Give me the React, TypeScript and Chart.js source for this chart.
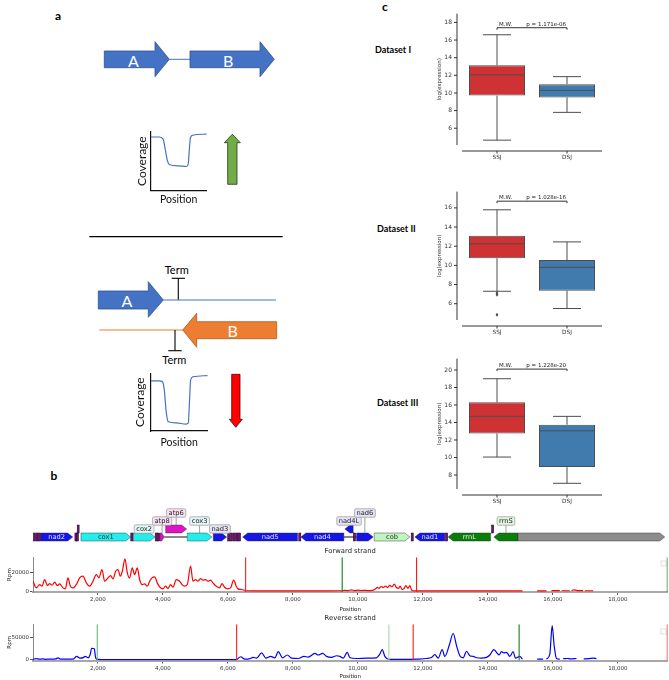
import React, { useEffect, useRef } from 'react';
import { Chart, registerables } from 'chart.js';

Chart.register(...registerables);

const SANS = "'DejaVu Sans', sans-serif";
const LATO = "Lato, 'Noto Sans', sans-serif";

// ---------- panel a: sketched coverage curves ----------
const sketchUpPos = [0, 15, 22, 26, 30, 34, 50, 64, 67, 69, 71, 75, 100];
const sketchUpCov = [91, 91, 88, 70, 50, 44, 42, 41, 45, 70, 90, 94, 96];
const sketchDownPos = [0, 15, 21, 24, 27, 31, 45, 62, 66, 68, 70, 74, 100];
const sketchDownCov = [87, 87, 85, 70, 35, 16, 14, 12, 14, 50, 88, 94, 96];

// ---------- panel c: box plots ----------
const groups = ['SSJ', 'DSJ'];
const datasetNames = ['Dataset I', 'Dataset II', 'Dataset III'];
const pValues = ['1.171e-06', '1.028e-16', '1.228e-20'];
const whiskerLow = [[4.65, 7.8], [7.3, 5.5], [10.05, 7.05]];
const quartile1 = [[9.7, 9.5], [10.75, 7.35], [12.75, 8.9]];
const medians = [[12.05, 10.3], [12.25, 9.8], [14.7, 13.05]];
const quartile3 = [[13.15, 11.0], [13.1, 10.55], [16.3, 13.75]];
const whiskerHigh = [[16.6, 11.85], [15.8, 12.45], [19.0, 14.7]];
const outliers = [[[], []], [[7.13, 6.94, 4.86], []], [[], []]];
const bracketLevel = [17.4, 16.7, 20.1];
const boxYMin = [4.1, 4.3, 6.4];
const boxYMax = [19.0, 17.7, 21.3];
const boxYTicks = [[6, 8, 10, 12, 14, 16, 18], [6, 8, 10, 12, 14, 16], [8, 10, 12, 14, 16, 18, 20]];
const boxColors = ['#cf3234', '#417bae'];

// ---------- panel b: genome map ----------
const genomeLength = 19530;
const geneNames = ['nad2', 'cox1', 'cox2', 'atp8', 'atp6', 'cox3', 'nad3', 'nad5', 'nad4', 'nad4L', 'nad6', 'cob', 'nad1', 'rrnL', 'rrnS', ''];
const geneStart = [237, 1477, 3086, 3908, 4083, 4748, 5548, 6452, 8246, 9600, 9960, 10502, 11754, 12778, 14185, 14932];
const geneEnd = [1222, 3006, 3754, 4040, 4729, 5508, 5960, 8144, 9569, 9855, 10471, 11600, 12677, 14083, 14932, 19446];
const geneStrand = [1, 1, 1, 1, 1, 1, 1, -1, -1, -1, 1, 1, -1, -1, -1, 1];
const geneTrack = [0, 0, 0, 0, 1, 0, 0, 0, 0, 1, 0, 0, 0, 0, 0, 0];
const geneLabelLevel = [0, 0, 1, 2, 3, 2, 1, 0, 0, 2, 3, 0, 0, 0, 2, 0];
const tRNAStart = [10, 90, 165, 1290, 1340, 1360, 3010, 3760, 3835, 5990, 6075, 6160, 6245, 6320, 8180, 9860, 11640, 12695, 14115];
const tRNAEnd = [75, 155, 232, 1350, 1400, 1420, 3075, 3825, 3900, 6060, 6145, 6230, 6310, 6390, 8245, 9930, 11705, 12765, 14180];
const tRNATrack = [0, 0, 0, 0, 0, 1, 0, 0, 0, 0, 0, 0, 0, 0, 0, 0, 0, 0, 1];
const linkStart = [4040, 9569];
const linkEnd = [4748, 9960];

const geneFill: Record<string, string> = { nad: '#1515e8', cox: '#22eeee', atp: '#dd14c4', cob: '#bff5bf', rrn: '#0b7d0b', '': '#8c8c8c' };
const geneText: Record<string, string> = { nad: '#e6e6ff', cox: '#333', atp: '#333', cob: '#333', rrn: '#eeeeee', '': '#333' };
const labelFill: Record<string, string> = { nad: '#e4e4f6', cox: '#e0f6f6', atp: '#f8e0f2', cob: '#e2f6e2', rrn: '#e0f4e0', '': '#eee' };

// ---------- panel b: coverage ----------
const xTickValues = [2000, 4000, 6000, 8000, 10000, 12000, 14000, 16000, 18000];

const fwdPos = [0, 103, 205, 277, 359, 441, 513, 585, 667, 749,
  821, 923, 995, 1077, 1149, 1231, 1333, 1436, 1538, 1641,
  1744, 1846, 1949, 2031, 2123, 2205, 2308, 2390, 2462, 2544,
  2615, 2687, 2749, 2831, 2903, 2974, 3056, 3128, 3210, 3282,
  3354, 3436, 3518, 3590, 3662, 3744, 3826, 3897, 4000, 4082,
  4154, 4236, 4308, 4410, 4513, 4585, 4667, 4749, 4851, 4923,
  5005, 5077, 5159, 5231, 5313, 5385, 5467, 5538, 5641, 5744,
  5815, 5897, 5979, 6082, 6174, 6256, 6308, 6410, 6513, 6560,
  7000, 8000, 9000, 9500, 9600, 9700, 9800, 9900, 10000, 10100,
  10200, 10300, 10450, 10550, 10600, 10650, 10720, 10780, 10850, 10920,
  10980, 11050, 11120, 11180, 11250, 11300, 11360, 11420, 11480, 11540,
  11600, 11650, 11700, 11800, 12500, 13500, 14500, 15066, 15300, 15518,
  15805, 15880, 15959, 16215, 16240, 16267, 16523, 16550, 16574, 16650,
  16750, 16933, 16960, 16985, 17241];
const fwdRpm = [10500, 3500, 7000, 5300, 12300, 6000, 8000, 6300, 9500, 6000,
  7700, 3500, 2500, 14000, 5300, 3500, 7000, 14000, 15800, 8800,
  5300, 10500, 17500, 14000, 22800, 10500, 14000, 16500, 13000, 21000,
  22800, 15800, 21000, 34000, 19300, 14000, 24500, 17500, 24500, 12300,
  7000, 7700, 5300, 10500, 14000, 15100, 8800, 4600, 2500, 5300,
  2800, 7000, 4200, 12300, 10500, 7000, 5300, 7000, 26300, 10500,
  12300, 10500, 13300, 11600, 12300, 10500, 11600, 8800, 5300, 3500,
  8000, 4200, 2500, 3500, 11600, 5300, 2500, 1800, 1000, 500,
  300, 300, 400, 500, 1000, 600, 1400, 700, 1200, 800,
  1000, 700, 900, 2500, 4000, 3000, 5000, 3800, 5500, 4000,
  6300, 4500, 7400, 4200, 3000, 5500, 2000, 2800, 6000, 3000,
  5800, 1500, 500, 300, 300, 300, 300, 300, null, 400,
  400, null, 700, 700, null, 500, 500, null, 600, 1500,
  700, 600, null, 500, 500];
const fwdMarkerPos = [6545, 9517, 11806, 19525];
const fwdMarkerColors = ['#ff1a1a', '#1a7a1a', '#ff1a1a', '#1a7a1a'];

const revPos = [0, 100, 200, 300, 400, 500, 600, 700, 779, 850,
  1000, 1150, 1250, 1344, 1446, 1550, 1600, 1700, 1760, 1805,
  1887, 1920, 1950, 2100, 3000, 4000, 5000, 6000, 6260, 6390,
  6523, 6650, 6780, 6880, 7036, 7169, 7313, 7446, 7549, 7682,
  7826, 7959, 8164, 8338, 8472, 8677, 8780, 8913, 9036, 9190,
  9344, 9446, 9549, 9672, 9754, 9959, 10267, 10574, 10677, 10749,
  10831, 10903, 11000, 11500, 11805, 12113, 12267, 12369, 12472, 12595,
  12677, 12810, 12933, 13036, 13138, 13241, 13344, 13446, 13549, 13651,
  13805, 13959, 14062, 14185, 14267, 14349, 14421, 14492, 14574, 14677,
  14779, 14851, 14985, 15067, 15300, 15520, 15700, 15760, 15805, 15908,
  15980, 16041, 16113, 16215, 16270, 16318, 16450, 16550, 16728, 16780,
  16831, 16900, 16950, 17100, 17241, 17344];
const revRpm = [1500, 2500, 1500, 2000, 1200, 1800, 1500, 2000, 4600, 1500,
  1800, 1500, 2000, 7700, 3800, 5000, 7700, 4600, 12000, 26000,
  24600, 8000, 1500, 500, 500, 500, 500, 500, 600, 6900,
  1500, 2000, 5400, 3800, 15400, 3800, 7700, 4600, 18400, 4600,
  10800, 3800, 3000, 7700, 6100, 14600, 10800, 14600, 7700, 5400,
  9200, 7700, 3800, 16900, 4600, 3000, 3800, 4600, 13000, 23000,
  7700, 2300, 800, 800, 1500, 3000, 5400, 11500, 3800, 23000,
  7700, 32000, 59000, 32000, 9200, 4600, 19200, 9200, 7700, 4600,
  3800, 5400, 10800, 23000, 16900, 10800, 18400, 15400, 16900, 7700,
  18400, 3800, 7700, 1500, null, 1500, 1500, null, 1500, 13000,
  76800, 32000, 3000, 1500, null, 2500, 3000, 2200, 3000, null,
  4000, null, 2000, 2500, 4000, 2500];
const revMarkerPos = [1978, 6268, 10954, 11702, 14963, 19525];
const revMarkerColors = ['#66bb66', '#ff1a1a', '#a6d9a6', '#ff1a1a', '#1a7a1a', '#ff1a1a'];

// ---------- plugins ----------
function line(ctx: CanvasRenderingContext2D, x1: number, y1: number, x2: number, y2: number) {
  ctx.beginPath();
  ctx.moveTo(x1, y1);
  ctx.lineTo(x2, y2);
  ctx.stroke();
}

const boxPlugin = {
  id: 'boxExtras',
  afterDatasetsDraw(chart: any, _args: any, opts: any) {
    const k = opts.k;
    const { ctx, chartArea } = chart;
    const xs = chart.scales.x;
    const ys = chart.scales.y;
    const meta = chart.getDatasetMeta(0);
    ctx.save();
    ctx.strokeStyle = '#4d4d4d';
    ctx.lineWidth = 1;
    groups.forEach((_g, i) => {
      const cx = xs.getPixelForValue(i);
      const bw = meta.data[i].width;
      const cap = bw / 4;
      line(ctx, cx, ys.getPixelForValue(quartile1[k][i]), cx, ys.getPixelForValue(whiskerLow[k][i]));
      line(ctx, cx - cap, ys.getPixelForValue(whiskerLow[k][i]), cx + cap, ys.getPixelForValue(whiskerLow[k][i]));
      line(ctx, cx, ys.getPixelForValue(quartile3[k][i]), cx, ys.getPixelForValue(whiskerHigh[k][i]));
      line(ctx, cx - cap, ys.getPixelForValue(whiskerHigh[k][i]), cx + cap, ys.getPixelForValue(whiskerHigh[k][i]));
      line(ctx, cx - bw / 2, ys.getPixelForValue(medians[k][i]), cx + bw / 2, ys.getPixelForValue(medians[k][i]));
      (outliers[k][i] as number[]).forEach((v) => {
        const py = ys.getPixelForValue(v);
        ctx.fillStyle = '#4d4d4d';
        ctx.beginPath();
        ctx.moveTo(cx, py - 2);
        ctx.lineTo(cx + 1.4, py);
        ctx.lineTo(cx, py + 2);
        ctx.lineTo(cx - 1.4, py);
        ctx.closePath();
        ctx.fill();
      });
    });
    // offset spines
    ctx.strokeStyle = '#333';
    const sx = chartArea.left - 5;
    line(ctx, sx, chartArea.top, sx, chartArea.bottom);
    ys.ticks.forEach((t: any) => {
      const py = ys.getPixelForValue(t.value);
      line(ctx, sx - 3, py, sx, py);
    });
    const sy = chartArea.bottom + 6;
    line(ctx, chartArea.left, sy, chartArea.right, sy);
    groups.forEach((_g, i) => {
      const px = xs.getPixelForValue(i);
      line(ctx, px, sy, px, sy + 2.5);
    });
    // significance bracket
    const bx1 = xs.getPixelForValue(0);
    const bx2 = xs.getPixelForValue(1);
    const by = ys.getPixelForValue(bracketLevel[k]);
    ctx.strokeStyle = '#333';
    ctx.beginPath();
    ctx.moveTo(bx1, by + 2);
    ctx.lineTo(bx1, by);
    ctx.lineTo(bx2, by);
    ctx.lineTo(bx2, by + 2);
    ctx.stroke();
    ctx.fillStyle = '#222';
    ctx.font = `5.5px ${SANS}`;
    ctx.textBaseline = 'bottom';
    ctx.textAlign = 'left';
    ctx.fillText('M.W.', bx1 + 2, by - 0.5);
    ctx.textAlign = 'right';
    ctx.fillText(`p = ${pValues[k]}`, bx2 - 1, by - 0.5);
    ctx.restore();
  },
};

function geneType(name: string) {
  if (name.startsWith('nad')) return 'nad';
  if (name.startsWith('cox')) return 'cox';
  if (name.startsWith('atp')) return 'atp';
  if (name.startsWith('cob')) return 'cob';
  if (name.startsWith('rrn')) return 'rrn';
  return '';
}

const genePlugin = {
  id: 'geneMap',
  afterDraw(chart: any) {
    const { ctx } = chart;
    const xs = chart.scales.x;
    const ys = chart.scales.y;
    const H = 4;
    ctx.save();
    // backbone links
    ctx.strokeStyle = '#111';
    ctx.lineWidth = 1;
    linkStart.forEach((s, i) => {
      line(ctx, xs.getPixelForValue(s), ys.getPixelForValue(0), xs.getPixelForValue(linkEnd[i]), ys.getPixelForValue(0));
    });
    // genes
    geneNames.forEach((name, i) => {
      const t = geneType(name);
      const x1 = xs.getPixelForValue(geneStart[i]);
      const x2 = xs.getPixelForValue(geneEnd[i]);
      const cy = ys.getPixelForValue(geneTrack[i]);
      const head = Math.min(5, (x2 - x1) * 0.6);
      ctx.beginPath();
      if (geneStrand[i] > 0) {
        ctx.moveTo(x1, cy - H);
        ctx.lineTo(x2 - head, cy - H);
        ctx.lineTo(x2, cy);
        ctx.lineTo(x2 - head, cy + H);
        ctx.lineTo(x1, cy + H);
      } else {
        ctx.moveTo(x2, cy - H);
        ctx.lineTo(x1 + head, cy - H);
        ctx.lineTo(x1, cy);
        ctx.lineTo(x1 + head, cy + H);
        ctx.lineTo(x2, cy + H);
      }
      ctx.closePath();
      ctx.fillStyle = geneFill[t];
      ctx.fill();
      ctx.strokeStyle = 'rgba(40,40,40,0.7)';
      ctx.lineWidth = 0.6;
      ctx.stroke();
    });
    // tRNAs
    tRNAStart.forEach((s, i) => {
      const x1 = xs.getPixelForValue(s);
      const x2 = Math.max(xs.getPixelForValue(tRNAEnd[i]), x1 + 1.8);
      const cy = ys.getPixelForValue(tRNATrack[i]);
      ctx.fillStyle = '#6a146a';
      ctx.fillRect(x1, cy - H, x2 - x1, 2 * H);
      ctx.strokeStyle = '#2a002a';
      ctx.lineWidth = 0.5;
      ctx.strokeRect(x1, cy - H, x2 - x1, 2 * H);
    });
    // labels
    ctx.font = `6.7px ${SANS}`;
    ctx.textAlign = 'center';
    ctx.textBaseline = 'middle';
    geneNames.forEach((name, i) => {
      if (!name) return;
      const t = geneType(name);
      const x1 = xs.getPixelForValue(geneStart[i]);
      const x2 = xs.getPixelForValue(geneEnd[i]);
      const cx = (x1 + x2) / 2;
      const cy = ys.getPixelForValue(geneTrack[i]);
      const lvl = geneLabelLevel[i];
      if (lvl === 0) {
        ctx.fillStyle = geneText[t];
        ctx.fillText(name, cx, cy + 0.5);
        return;
      }
      const ly = ys.getPixelForValue(lvl);
      const w = ctx.measureText(name).width + 4;
      const h = 8.5;
      const top = cy - H;
      if (top > ly + h / 2) {
        ctx.strokeStyle = '#777';
        ctx.lineWidth = 0.7;
        line(ctx, cx, ly + h / 2, cx, top);
      }
      ctx.fillStyle = labelFill[t];
      ctx.strokeStyle = '#9a9a9a';
      ctx.lineWidth = 0.7;
      ctx.beginPath();
      ctx.roundRect(cx - w / 2, ly - h / 2, w, h, 1.5);
      ctx.fill();
      ctx.stroke();
      ctx.fillStyle = '#222';
      ctx.fillText(name, cx, ly + 0.5);
    });
    ctx.restore();
  },
};

// ---------- configs ----------
function boxConfig(k: number): any {
  return {
    type: 'bar',
    data: {
      labels: groups,
      datasets: [{
        data: groups.map((_g, i) => [quartile1[k][i], quartile3[k][i]]),
        backgroundColor: boxColors,
        borderColor: '#4d4d4d',
        borderWidth: 1,
        borderSkipped: false,
        barPercentage: 0.8,
        categoryPercentage: 1,
      }],
    },
    options: {
      animation: false,
      responsive: false,
      events: [],
      layout: { padding: { top: 5, right: 67, left: 0, bottom: 0 } },
      plugins: { legend: { display: false }, tooltip: { enabled: false }, boxExtras: { k } },
      scales: {
        x: {
          grid: { display: false, drawTicks: false },
          border: { display: false },
          ticks: { padding: 9.5, color: '#333', font: { family: SANS, size: 5.8 } },
          afterFit: (s: any) => { s.height = 20; },
        },
        y: {
          min: boxYMin[k],
          max: boxYMax[k],
          grid: { display: false, drawTicks: false },
          border: { display: false },
          ticks: { padding: 10, color: '#333', font: { family: SANS, size: 6 } },
          afterBuildTicks: (s: any) => { s.ticks = boxYTicks[k].map((v) => ({ value: v })); },
          title: { display: true, text: 'log(expression)', color: '#333', font: { family: SANS, size: 5.5 }, padding: { top: 4, bottom: 0 } },
          afterFit: (s: any) => { s.width = 30; },
        },
      },
    },
    plugins: [boxPlugin],
  };
}

function coverageConfig(title: string, pos: number[], rpm: (number | null)[], color: string,
  yMin: number, yMax: number, yTicks: number[], markerPos: number[], markerColors: string[],
  xAxisH: number, posPad: number): any {
  const markers = markerPos.map((m, i) => ({
    data: [{ x: m, y: yMin }, { x: m, y: yMax }],
    borderColor: markerColors[i],
    borderWidth: 1.1,
    pointRadius: 0,
    showLine: true,
  }));
  return {
    type: 'scatter',
    data: {
      datasets: [
        ...markers,
        {
          data: pos.map((p, i) => ({ x: p, y: rpm[i] })),
          borderColor: color,
          borderWidth: 1.2,
          pointRadius: 0,
          showLine: true,
          spanGaps: false,
          cubicInterpolationMode: 'monotone',
        },
      ],
    },
    options: {
      animation: false,
      responsive: false,
      events: [],
      layout: { padding: { top: 0, right: 1.5, left: 0, bottom: 0 } },
      plugins: {
        legend: { display: false },
        tooltip: { enabled: false },
        title: { display: true, text: title, fullSize: false, color: '#222', font: { family: SANS, size: 6.8, weight: 'normal' }, padding: { top: 2, bottom: 2 } },
      },
      scales: {
        x: {
          type: 'linear',
          min: 0,
          max: genomeLength,
          afterBuildTicks: (s: any) => { s.ticks = xTickValues.map((v) => ({ value: v })); },
          ticks: { autoSkip: false, maxRotation: 0, padding: 1.5, color: '#333', font: { family: SANS, size: 5.5 }, callback: (v: any) => Number(v).toLocaleString('en-US') },
          grid: { display: true, drawOnChartArea: false, drawTicks: true, tickLength: 3, color: '#555' },
          border: { display: true, color: '#a8a8a8', width: 2 },
          title: { display: true, text: 'Position', color: '#222', font: { family: SANS, size: 5.5 }, padding: { top: 0, bottom: posPad } },
          afterFit: (s: any) => { s.height = xAxisH; },
        },
        y: {
          min: yMin,
          max: yMax,
          afterBuildTicks: (s: any) => { s.ticks = yTicks.map((v) => ({ value: v })); },
          ticks: { padding: 1, color: '#333', font: { family: SANS, size: 5.5 }, callback: (v: any) => String(v) },
          grid: { display: true, drawOnChartArea: false, drawTicks: true, tickLength: 3, color: '#555' },
          border: { display: true, color: '#888', width: 1 },
          title: { display: true, text: 'Rpm', color: '#222', font: { family: SANS, size: 5.5 }, padding: { top: 6.7, bottom: 0 } },
          afterFit: (s: any) => { s.width = 33; },
        },
      },
    },
  };
}

function geneMapConfig(): any {
  return {
    type: 'scatter',
    data: { datasets: [] },
    options: {
      animation: false,
      responsive: false,
      events: [],
      layout: { padding: { top: 0, right: 1.5, left: 33, bottom: 0 } },
      plugins: { legend: { display: false }, tooltip: { enabled: false } },
      scales: {
        x: { type: 'linear', min: 0, max: genomeLength, display: false },
        y: { type: 'linear', min: -1, max: 4, display: false },
      },
    },
    plugins: [genePlugin],
  };
}

function sketchConfig(pos: number[], cov: number[], padTop: number, yTitlePad: number, xTitlePad: number, xH: number): any {
  return {
    type: 'scatter',
    data: {
      datasets: [{
        data: pos.map((p, i) => ({ x: p, y: cov[i] })),
        borderColor: '#4472c4',
        borderWidth: 1.2,
        pointRadius: 0,
        showLine: true,
        cubicInterpolationMode: 'monotone',
      }],
    },
    options: {
      animation: false,
      responsive: false,
      events: [],
      layout: { padding: { top: padTop, right: 3.3, left: 0, bottom: 0 } },
      plugins: { legend: { display: false }, tooltip: { enabled: false } },
      scales: {
        x: {
          type: 'linear', min: 0, max: 100,
          ticks: { display: false },
          grid: { display: false },
          border: { display: true, color: '#111', width: 1.2 },
          title: { display: true, text: 'Position', color: '#111', font: { family: LATO, size: 10.5 }, padding: { top: 0, bottom: xTitlePad } },
          afterFit: (s: any) => { s.height = xH; },
        },
        y: {
          min: 0, max: 100,
          ticks: { display: false },
          grid: { display: false },
          border: { display: true, color: '#111', width: 1.2 },
          title: { display: true, text: 'Coverage', color: '#111', font: { family: LATO, size: 12 }, padding: { top: yTitlePad, bottom: 0 } },
          afterFit: (s: any) => { s.width = 20.7; },
        },
      },
    },
  };
}

function ChartCanvas({ x, y, w, h, build }: { x: number; y: number; w: number; h: number; build: () => any }) {
  const ref = useRef<HTMLCanvasElement>(null);
  useEffect(() => {
    const chart = new Chart(ref.current as HTMLCanvasElement, build());
    return () => chart.destroy();
  }, []);
  return <canvas ref={ref} width={w} height={h} style={{ position: 'absolute', left: x, top: y, width: w, height: h }} />;
}

function Schematic() {
  const blue = '#4472c4';
  const blueEdge = '#2f528f';
  const orange = '#ed7d31';
  return (
    <svg width={669} height={680} style={{ position: 'absolute', left: 0, top: 0 }}>
      <g fontFamily={LATO}>
        <text x={58} y={15} fontSize={12} fontWeight="bold" textAnchor="middle" dominantBaseline="central">a</text>
        <text x={54} y={475.5} fontSize={12} fontWeight="bold" textAnchor="middle" dominantBaseline="central">b</text>
        <text x={385} y={6} fontSize={12} fontWeight="bold" textAnchor="middle" dominantBaseline="central">c</text>

        {/* top: co-directional genes */}
        <polygon points="104.3,51 155,51 155,41.7 169.3,59.3 155,76.7 155,67.7 104.3,67.7" fill={blue} stroke={blueEdge} strokeWidth={0.8} />
        <line x1={169.3} y1={59.3} x2={190} y2={59.3} stroke={blue} strokeWidth={1} />
        <polygon points="190,51 260,51 260,41.7 274.3,59.3 260,76.7 260,67.7 190,67.7" fill={blue} stroke={blueEdge} strokeWidth={0.8} />
        <text x={133.3} y={60} fill="#fff" fontSize={16} textAnchor="middle" dominantBaseline="central">A</text>
        <text x={228.3} y={60} fill="#fff" fontSize={16} textAnchor="middle" dominantBaseline="central">B</text>
        <polygon points="227.7,184.3 227.7,142.7 224.3,142.7 232.3,134.3 240.3,142.7 237,142.7 237,184.3" fill="#70ad47" stroke="#1e3a10" strokeWidth={0.8} />

        <line x1={89.3} y1={236.7} x2={282.7} y2={236.7} stroke="#000" strokeWidth={1.3} />

        {/* bottom: convergent genes */}
        <text x={176.7} y={269.5} fontSize={11} textAnchor="middle" dominantBaseline="central">Term</text>
        <line x1={178.3} y1={278.3} x2={178.3} y2={300} stroke="#000" strokeWidth={1.1} />
        <line x1={171.7} y1={278.3} x2={185} y2={278.3} stroke="#000" strokeWidth={1.1} />
        <polygon points="98.3,291 148.3,291 148.3,281.7 163.3,300 148.3,317.3 148.3,309 98.3,309" fill={blue} stroke={blueEdge} strokeWidth={0.8} />
        <line x1={163.3} y1={300} x2={276} y2={300} stroke={blue} strokeWidth={1} />
        <text x={127} y={300.5} fill="#fff" fontSize={16} textAnchor="middle" dominantBaseline="central">A</text>
        <line x1={99.3} y1={330} x2={183} y2={330} stroke={orange} strokeWidth={1} />
        <polygon points="276.7,321.7 196.7,321.7 196.7,313.3 182.7,330 196.7,347.3 196.7,338.7 276.7,338.7" fill={orange} stroke="#ae5a21" strokeWidth={0.8} />
        <text x={232.7} y={330.5} fill="#fff" fontSize={16} textAnchor="middle" dominantBaseline="central">B</text>
        <line x1={175} y1={330} x2={175} y2={350.7} stroke="#000" strokeWidth={1.1} />
        <line x1={168.3} y1={350.7} x2={181.7} y2={350.7} stroke="#000" strokeWidth={1.1} />
        <text x={174.3} y={359.5} fontSize={11} textAnchor="middle" dominantBaseline="central">Term</text>
        <polygon points="231.7,374.3 240,374.3 240,419.3 242.3,419.3 235.8,427.3 229.3,419.3 231.7,419.3" fill="#ff0000" stroke="#5a0000" strokeWidth={0.8} />

        {datasetNames.map((n, i) => (
          <text key={n} x={[375, 377, 377][i]} y={[49, 228, 402.7][i]} fontSize={9} fontWeight="bold" dominantBaseline="central">{n}</text>
        ))}

        {/* empty legend boxes of the coverage tracks */}
        <rect x={661} y={561} width={5} height={5} fill="#fff" stroke="#d8d8d8" strokeWidth={0.8} />
        <rect x={661} y={629} width={5} height={5} fill="#fff" stroke="#d8d8d8" strokeWidth={0.8} />
      </g>
    </svg>
  );
}

export default function App() {
  return (
    <div style={{ position: 'absolute', left: 0, top: 0, width: 669, height: 680, background: '#fff', overflow: 'hidden' }}>
      <Schematic />
      <ChartCanvas x={130} y={128} w={80} h={80} build={() => sketchConfig(sketchUpPos, sketchUpCov, 3.7, 4.5, 1.7, 17.3)} />
      <ChartCanvas x={130} y={370} w={81} h={79} build={() => sketchConfig(sketchDownPos, sketchDownCov, 3.3, 2.8, 0.4, 18)} />
      <ChartCanvas x={432} y={0} w={237} h={165} build={() => boxConfig(0)} />
      <ChartCanvas x={432} y={178} w={237} h={162} build={() => boxConfig(1)} />
      <ChartCanvas x={432} y={345} w={237} h={164} build={() => boxConfig(2)} />
      <ChartCanvas x={0} y={505} w={669} h={40} build={geneMapConfig} />
      <ChartCanvas x={0} y={545} w={669} h={69} build={() => coverageConfig('Forward strand', fwdPos, fwdRpm, '#ff0000', -800, 35800, [0, 20000], fwdMarkerPos, fwdMarkerColors, 22, 1.4)} />
      <ChartCanvas x={0} y={612} w={669} h={68} build={() => coverageConfig('Reverse strand', revPos, revRpm, '#0000ff', -1500, 80000, [0, 50000], revMarkerPos, revMarkerColors, 19.5, 0)} />
    </div>
  );
}
